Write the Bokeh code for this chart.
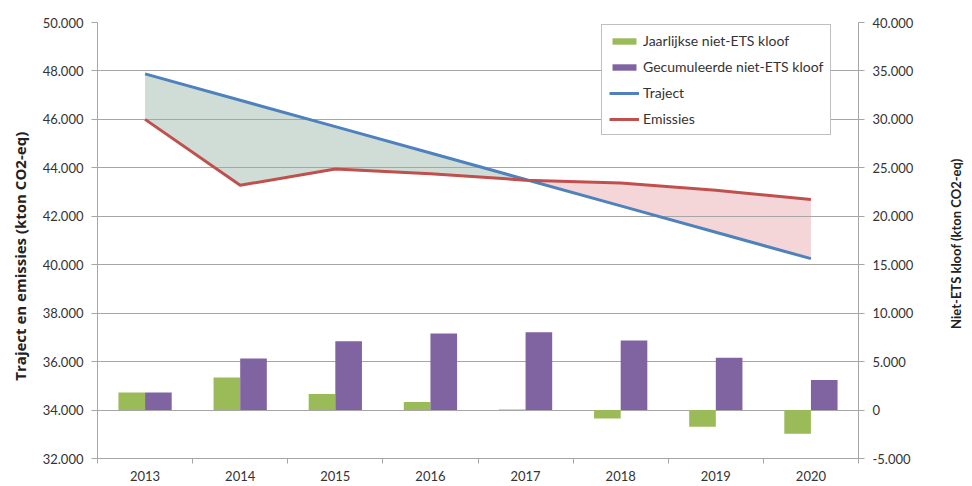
import math
from bokeh.plotting import figure
from bokeh.layouts import row
from bokeh.models import Range1d, LinearAxis, FixedTicker, Legend, LegendItem
from bokeh.core.properties import value
from bokeh.embed import file_html
from bokeh.resources import INLINE

years = ["2013", "2014", "2015", "2016", "2017", "2018", "2019", "2020"]
traject = [47880, 46790, 45700, 44610, 43520, 42430, 41340, 40250]
emissies = [46000, 43280, 43950, 43760, 43490, 43370, 43070, 42690]
jaarlijkse = [1820, 3360, 1650, 820, 50, -870, -1720, -2440]
gecumuleerde = [1820, 5320, 7110, 7900, 8040, 7180, 5390, 3090]

left_ticks = [32000, 34000, 36000, 38000, 40000, 42000, 44000, 46000, 48000, 50000]
left_labels = ["32.000", "34.000", "36.000", "38.000", "40.000", "42.000", "44.000", "46.000", "48.000", "50.000"]
right_ticks = [-5000, 0, 5000, 10000, 15000, 20000, 25000, 30000, 35000, 40000]
right_labels = ["-5.000", "0", "5.000", "10.000", "15.000", "20.000", "25.000", "30.000", "35.000", "40.000"]

left_title = "Traject en emissies (kton CO2-eq)"
right_title = "Niet-ETS kloof (kton CO2-eq)"

FONT = "Lato"
TXT = "#333333"
GRID = "#a6a6a6"
H = 485
W_LEFT = 30
W_RIGHT = 30
W_MAIN = 910
FRAME_L, FRAME_R, FRAME_T, FRAME_B = 97, 858, 22, 458

n = len(years)
xc = [i + 0.5 for i in range(n)]

p = figure(width=W_MAIN, height=H, output_backend="svg", toolbar_location=None,
           x_range=Range1d(0, n), y_range=Range1d(32000, 50000),
           min_border_left=FRAME_L - W_LEFT, min_border_right=W_LEFT + W_MAIN - FRAME_R,
           min_border_top=FRAME_T, min_border_bottom=H - FRAME_B)
p.extra_y_ranges = {"kloof": Range1d(-5000, 40000)}
p.outline_line_color = None
p.background_fill_color = "white"

# fills between lines, split at the crossing
diff = [t - e for t, e in zip(traject, emissies)]
k = next(i for i in range(n - 1) if diff[i] > 0 and diff[i + 1] <= 0)
f = diff[k] / (diff[k] - diff[k + 1])
x_cross = xc[k] + f * (xc[k + 1] - xc[k])
y_cross = traject[k] + f * (traject[k + 1] - traject[k])

a1 = p.varea(x=xc[:k + 1] + [x_cross], y1=traject[:k + 1] + [y_cross], y2=emissies[:k + 1] + [y_cross],
             fill_color="#cfddd6")
a2 = p.varea(x=[x_cross] + xc[k + 1:], y1=[y_cross] + traject[k + 1:], y2=[y_cross] + emissies[k + 1:],
             fill_color="#f4d5d8")
a1.level = "image"
a2.level = "image"

bw = 0.28
g = p.vbar(x=[v - bw / 2 for v in xc], top=jaarlijkse, bottom=0, width=bw, y_range_name="kloof",
           fill_color="#9bbb59", line_color=None)
pu = p.vbar(x=[v + bw / 2 for v in xc], top=gecumuleerde, bottom=0, width=bw, y_range_name="kloof",
            fill_color="#8064a2", line_color=None)

lt = p.line(xc, traject, line_color="#4f81bd", line_width=3)
le = p.line(xc, emissies, line_color="#c0504d", line_width=3)

# axes
p.yaxis.ticker = FixedTicker(ticks=left_ticks)
p.yaxis.major_label_overrides = {t: l for t, l in zip(left_ticks, left_labels)}

ra = LinearAxis(y_range_name="kloof", ticker=FixedTicker(ticks=right_ticks))
ra.major_label_overrides = {t: l for t, l in zip(right_ticks, right_labels)}
p.add_layout(ra, "right")

p.xaxis.ticker = FixedTicker(ticks=xc, minor_ticks=list(range(n + 1)))
p.xaxis.major_label_overrides = {v: y for v, y in zip(xc, years)}
p.xaxis.major_tick_out = 0
p.xaxis.major_tick_in = 0
p.xaxis.minor_tick_out = 5
p.xaxis.minor_tick_in = 0
p.xaxis.minor_tick_line_color = GRID
p.xaxis.major_label_standoff = 7

for ax in [p.yaxis[0], ra]:
    ax.major_tick_out = 6
    ax.major_tick_in = 0
    ax.minor_tick_out = 0
    ax.minor_tick_in = 0
    ax.major_label_standoff = 8

for ax in [p.xaxis[0], p.yaxis[0], ra]:
    ax.axis_line_color = GRID
    ax.major_tick_line_color = GRID
    ax.major_label_text_font = FONT
    ax.major_label_text_font_size = "13px"
    ax.major_label_text_color = TXT

p.ygrid.ticker = FixedTicker(ticks=left_ticks)
p.ygrid.grid_line_color = GRID
p.xgrid.grid_line_color = None

legend = Legend(items=[
    LegendItem(label="Jaarlijkse niet-ETS kloof", renderers=[g]),
    LegendItem(label="Gecumuleerde niet-ETS kloof", renderers=[pu]),
    LegendItem(label="Traject", renderers=[lt]),
    LegendItem(label="Emissies", renderers=[le]),
], location=(504, 323))
legend.label_text_font = FONT
legend.label_text_font_size = "14px"
legend.label_text_color = TXT
legend.glyph_width = 30
legend.glyph_height = 8
legend.label_height = 17
legend.spacing = 9
legend.padding = 7
legend.margin = 0
legend.label_standoff = 4
legend.border_line_color = "#808080"
legend.border_line_width = 1
legend.background_fill_color = "white"
legend.background_fill_alpha = 1
p.add_layout(legend)


def title_strip(width, text, x, y, font, size):
    s = figure(width=width, height=H, output_backend="svg", toolbar_location=None,
               x_range=Range1d(0, width), y_range=Range1d(0, H),
               x_axis_type=None, y_axis_type=None,
               min_border_left=0, min_border_right=0, min_border_top=0, min_border_bottom=0)
    s.outline_line_color = None
    s.text(x=[x], y=[y], text=[text], angle=math.pi / 2, text_align="center",
           text_baseline="middle", text_font=value(font), text_font_size=size,
           text_font_style="bold", text_color="#222222")
    return s


left_strip = title_strip(W_LEFT, left_title, 19, H - 260, "Open Sans", "15px")
right_strip = title_strip(W_RIGHT, right_title, 955 - (W_LEFT + W_MAIN), H - 246, FONT, "13px")

layout = row(left_strip, p, right_strip)
layout.spacing = 0

open("out.html", "w").write(file_html(layout, INLINE))
